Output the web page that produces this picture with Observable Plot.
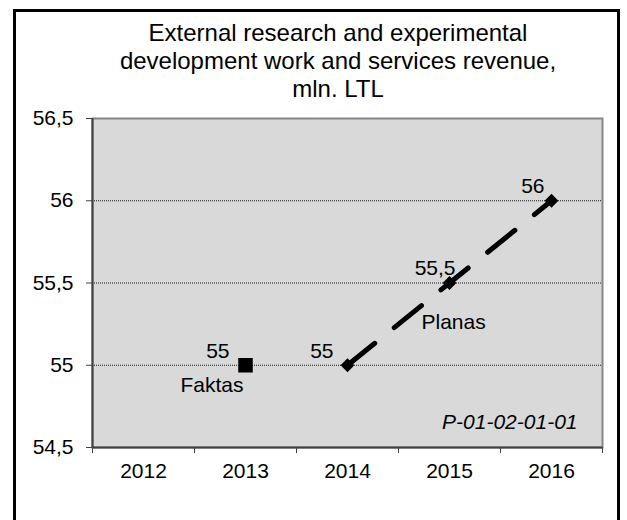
<!DOCTYPE html>
<html><head><meta charset="utf-8">
<script src="https://cdn.jsdelivr.net/npm/d3@7"></script>
<script src="https://cdn.jsdelivr.net/npm/@observablehq/plot@0.6"></script>
<style>
body{margin:0;background:#fff;}
#wrap{position:relative;width:627px;height:520px;overflow:hidden;font-family:"Liberation Sans",Arial,sans-serif;}
#border{position:absolute;left:13px;top:9px;width:607px;height:540px;border:3px solid #000;box-sizing:border-box;}
#title{position:absolute;left:0;width:676px;top:19px;text-align:center;font-size:24px;line-height:28px;color:#000;}
#chart{position:absolute;left:0;top:0;}
</style></head><body>
<div id="wrap"><div id="border"></div><div id="title">External research and experimental<br>development work and services revenue,<br>mln. LTL</div><div id="chart"></div></div>
<script>
const years = [2012, 2013, 2014, 2015, 2016];
const yTicks = [54.5, 55, 55.5, 56, 56.5];
const gridValues = [55, 55.5, 56];
const faktasYears = [2013];
const faktasValues = [55];
const planasYears = [2014, 2015, 2016];
const planasValues = [55, 55.5, 56];
const seriesNames = ["Faktas", "Planas"];
const codeLabel = "P-01-02-01-01";

const fmt = d => String(d).replace(".", ",");
const faktas = faktasYears.map((year, i) => ({year, value: faktasValues[i]}));
const planas = planasYears.map((year, i) => ({year, value: planasValues[i]}));
const bounds = d3.range(years[0] - 0.5, years[years.length - 1] + 1, 1);
const font = "'Liberation Sans', Arial, sans-serif";
const fs = 21;

const chart = Plot.plot({
  width: 627, height: 520,
  marginLeft: 92, marginRight: 25, marginTop: 118, marginBottom: 73,
  style: {fontFamily: font, fontSize: fs + "px", background: "transparent", color: "#000", overflow: "visible"},
  x: {type: "linear", domain: [years[0] - 0.5, years[years.length - 1] + 0.5]},
  y: {domain: [yTicks[0], yTicks[yTicks.length - 1]]},
  marks: [
    Plot.frame({fill: "#d9d9d9"}),
    Plot.ruleY(gridValues, {stroke: "#000", strokeWidth: 1, strokeDasharray: "1,1", strokeOpacity: 0.9}),
    Plot.frame({stroke: "#868686", strokeWidth: 2}),
    Plot.axisY({ticks: yTicks, tickFormat: fmt, tickSize: 6, tickPadding: 13, stroke: "#404040", fontSize: fs, label: null}),
    Plot.axisX({ticks: years, tickFormat: d => String(d), tickSize: 0, tickPadding: 16, fontSize: fs, label: null}),
    Plot.axisX({ticks: bounds, tickFormat: () => "", tickSize: 6, stroke: "#404040", label: null}),
    Plot.ruleX([years[0] - 0.5], {stroke: "#404040", strokeWidth: 2}),
    Plot.ruleY([yTicks[0]], {stroke: "#404040", strokeWidth: 2}),
    Plot.line(planas, {x: "year", y: "value", stroke: "#000", strokeWidth: 5, strokeDasharray: "35,25", strokeLinecap: "round"}),
    Plot.dot(planas, {x: "year", y: "value", symbol: "diamond2", r: 6.2, fill: "#000", stroke: "none"}),
    Plot.dot(faktas, {x: "year", y: "value", symbol: "square", r: 8.2, fill: "#000", stroke: "none"}),
    Plot.text(faktas, {x: "year", y: "value", text: d => fmt(d.value), textAnchor: "end", lineAnchor: "bottom", dx: -16, dy: -7, fontSize: fs, fill: "#000"}),
    Plot.text(faktas, {x: "year", y: "value", text: () => seriesNames[0], textAnchor: "end", lineAnchor: "bottom", dx: -2, dy: 27, fontSize: fs, fill: "#000"}),
    Plot.text(planas, {filter: (d, i) => i === 0, x: "year", y: "value", text: d => fmt(d.value), textAnchor: "end", lineAnchor: "bottom", dx: -14, dy: -7, fontSize: fs, fill: "#000"}),
    Plot.text(planas, {filter: (d, i) => i === 1, x: "year", y: "value", text: d => fmt(d.value), textAnchor: "end", lineAnchor: "bottom", dx: 6, dy: -8, fontSize: fs, fill: "#000"}),
    Plot.text(planas, {filter: (d, i) => i === 2, x: "year", y: "value", text: d => fmt(d.value), textAnchor: "end", lineAnchor: "bottom", dx: -7, dy: -8, fontSize: fs, fill: "#000"}),
    Plot.text(planas, {filter: (d, i) => i === 1, x: "year", y: "value", text: () => seriesNames[1], textAnchor: "start", lineAnchor: "bottom", dx: -28, dy: 46, fontSize: fs, fill: "#000"}),
    Plot.text([codeLabel], {frameAnchor: "bottom-right", text: d => d, textAnchor: "end", lineAnchor: "bottom", dx: -25, dy: -19, fontSize: fs, fontStyle: "italic", fill: "#000"})
  ]
});
document.getElementById("chart").appendChild(chart);
</script>
</body></html>
